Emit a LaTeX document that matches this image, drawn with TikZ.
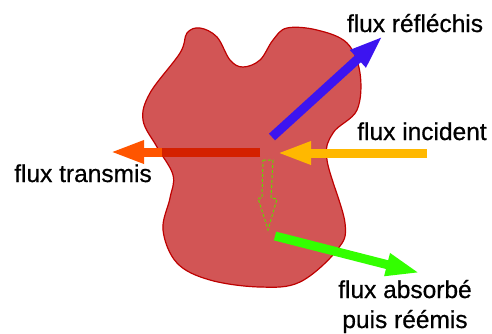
\documentclass[tikz,border=0pt]{standalone}
\usepackage{fontspec}
\setmainfont{Liberation Sans}
\newfontfamily\fluxfont{Liberation Sans}[FakeBold=0.6]
\usetikzlibrary{arrows.meta}
\definecolor{corps}{RGB}{210,85,85}
\definecolor{corpsline}{RGB}{190,0,0}
\definecolor{incident}{RGB}{255,184,0}
\definecolor{transmis}{RGB}{255,85,0}
\definecolor{transmisin}{RGB}{212,32,0}
\definecolor{reflechi}{RGB}{60,20,240}
\definecolor{absorbe}{RGB}{51,255,0}
\definecolor{reemis}{RGB}{100,215,0}

\begin{document}
\begin{tikzpicture}[x=1pt,y=-1pt,
every node/.style={font=\fluxfont\fontsize{24.5}{30}\selectfont,inner sep=0pt,anchor=base,align=center},
flux/.style={line width=9pt},
>={Triangle[length=34pt,width=21pt]}]
\useasboundingbox (0,0) rectangle (492,333);
% corps
\filldraw[fill=corps,draw=corpsline,line width=1.2pt] plot[smooth cycle,tension=0.6] coordinates {
(187,33) (200,28) (217,37) (230,60) (243,67) (260,60) (273,40) (287,28) (317,30)
(347,43) (360,73) (357,110) (333,133) (327,160) (345,223) (337,250) (300,282)
(260,287) (210,280) (177,263) (163,230) (170,198) (173,175) (157,147) (143,120)
(150,93) (180,53)};
\coordinate (impact) at (268,152);
\coordinate (incTail) at (427,153);
\coordinate (incTip) at (277,153);
\coordinate (trTail) at (260,152);
\coordinate (trEdge) at (162,152);
\coordinate (trTip) at (110,152);
\coordinate (rfTail) at (272,137);
\coordinate (rfTip) at (383,36);
\coordinate (abTail) at (275,236);
\coordinate (abTip) at (420,273);
\node (rf) at (415,32) {flux réfléchis};
\node (inc) at (422,140) {flux incident};
\node (tr) at (83,182) {flux transmis};
\node (ab) at (405,328) {flux absorbé\\puis réémis};
% flux
\draw[flux,transmis,->] (trTail) -- (trTip);
\draw[flux,transmisin] (trTail) -- (trEdge);
\draw[flux,reflechi,->] (rfTail) -- (rfTip);
\draw[flux,incident,->] (incTail) -- (incTip);
\draw[reemis,dashed,line width=1pt,dash pattern=on 3pt off 2pt]
  (263,160) -- (273,160) -- (271,198) -- (277,199) -- (268,230) -- (258,198) -- (262,198) -- cycle;
\draw[flux,absorbe,->] (abTail) -- (abTip);
\end{tikzpicture}
\end{document}
